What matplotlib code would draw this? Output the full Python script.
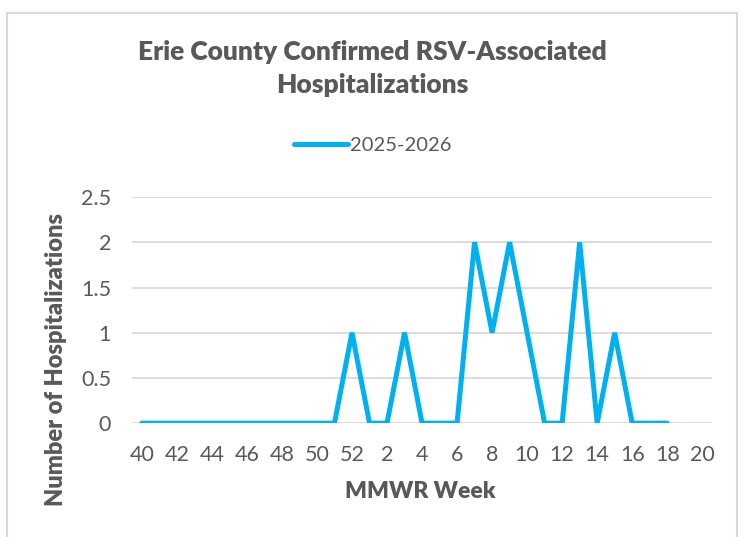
import matplotlib.pyplot as plt
import numpy as np
from matplotlib.patches import Rectangle

# MMWR weeks of the 2025-2026 season
semanas = list(range(40, 53)) + list(range(1, 21))
# Hospitalizaciones por semana (sin datos después de la semana 18)
hosp = [0, 0, 0, 0, 0, 0, 0, 0, 0, 0, 0, 0, 1,
        0, 0, 1, 0, 0, 0, 2, 1, 2, 1, 0, 0, 2, 0, 1, 0, 0, 0]
serie = '2025-2026'

plt.rcParams['font.family'] = ['Lato', 'DejaVu Sans']
gris = '#595959'

fig = plt.figure(figsize=(7.45, 5.37), dpi=100)
ax = fig.add_axes([0.177, 0.212, 0.779, 0.421])

x = np.arange(len(hosp))
ax.plot(x, hosp, color='#00B0F0', linewidth=3.6, solid_capstyle='round',
        solid_joinstyle='miter', label=serie)

ax.set_xlim(-0.57, len(semanas) - 1 + 0.57)
ax.set_ylim(0, 2.5)
ax.set_xticks(np.arange(0, len(semanas), 2))
ax.set_xticklabels([str(s) for s in semanas[::2]])
ax.set_yticks([0, 0.5, 1, 1.5, 2, 2.5])
ax.set_yticklabels(['0', '0.5', '1', '1.5', '2', '2.5'])
ax.tick_params(length=0, labelsize=15.5, colors=gris)
ax.tick_params(axis='x', pad=16)
ax.tick_params(axis='y', pad=15)
ax.grid(axis='y', color='#D9D9D9', linewidth=1.3)
ax.set_axisbelow(True)
for s in ax.spines.values():
    s.set_visible(False)

ax.set_xlabel('MMWR Week', fontsize=16.5, fontweight='heavy', color=gris, va='center')
ax.xaxis.set_label_coords(0.497, -0.304)
ax.set_ylabel('Number of Hospitalizations', fontsize=17, fontweight='heavy', color=gris, va='center')
ax.yaxis.set_label_coords(-0.13, 0.28)

fig.text(0.5, 0.873, 'Erie County Confirmed RSV-Associated\nHospitalizations',
         ha='center', va='center', fontsize=19, fontweight='heavy', color=gris,
         linespacing=1.45)

ax.legend(loc='center', bbox_to_anchor=(0.5, 1 - 145 / 537), bbox_transform=fig.transFigure,
          frameon=False, fontsize=14.5, labelcolor=gris, handlelength=2.7, handletextpad=0.1)

fig.patches.append(Rectangle((7 / 745, -0.02), 730 / 745, (537 - 13) / 537 + 0.02,
                             transform=fig.transFigure, fill=False,
                             edgecolor='#D9D9D9', linewidth=1.5))

plt.savefig('out.png', dpi=100)
